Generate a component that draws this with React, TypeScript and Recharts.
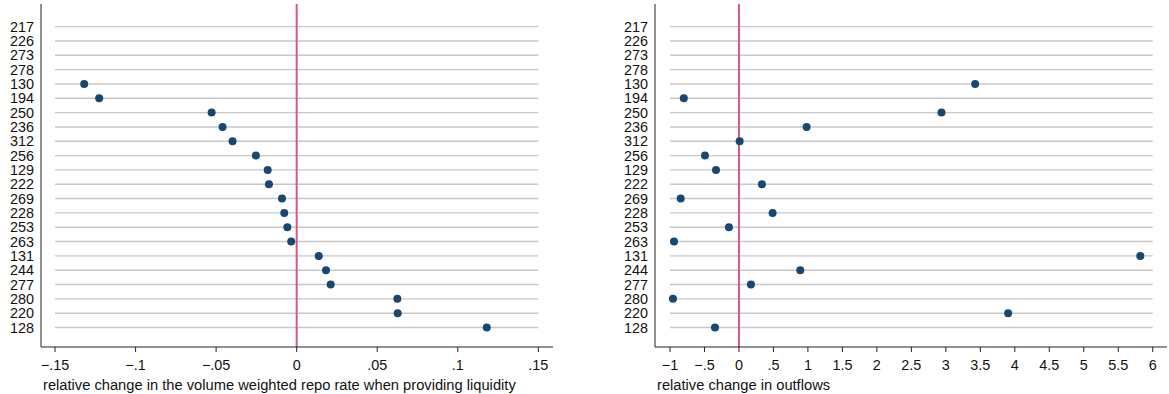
import React from 'react';
import { ScatterChart, Scatter, XAxis, YAxis, ReferenceLine } from 'recharts';

const banks = ['217', '226', '273', '278', '130', '194', '250', '236', '312', '256', '129', '222', '269', '228', '253', '263', '131', '244', '277', '280', '220', '128'];

const repoRateChange = [null, null, null, null, -0.1319, -0.1226, -0.0528, -0.046, -0.0398, -0.0253, -0.018, -0.0172, -0.0091, -0.0077, -0.0058, -0.0034, 0.0137, 0.0182, 0.0211, 0.0625, 0.0627, 0.118];

const outflowChange = [null, null, null, null, 3.425, -0.8, 2.937, 0.981, 0.01, -0.493, -0.333, 0.333, -0.845, 0.488, -0.145, -0.942, 5.82, 0.889, 0.174, -0.957, 3.903, -0.348];

const repoTicks = [-0.15, -0.1, -0.05, 0, 0.05, 0.1, 0.15];
const outflowTicks = [-1, -0.5, 0, 0.5, 1, 1.5, 2, 2.5, 3, 3.5, 4, 4.5, 5, 5.5, 6];

const FONT = '"Liberation Sans", Arial, Helvetica, sans-serif';
const DOT = '#1a476f';
const RED = '#d35b7c';
const GRID = '#c8c8c8';
const AXIS = '#222';

const stataNum = (v: number) => {
  if (v === 0) return '0';
  let s = String(Math.abs(v));
  if (s.startsWith('0.')) s = s.slice(1);
  return (v < 0 ? '\u2212' : '') + s;
};

const toPoints = (vals: (number | null)[]) =>
  vals
    .map((v, i) => (v === null ? null : { x: v, idx: i }))
    .filter((p): p is { x: number; idx: number } => p !== null);

const Dot = (p: any) => <circle cx={p.cx} cy={p.cy} r={4} fill={DOT} />;

type PanelProps = {
  values: (number | null)[];
  ticks: number[];
  domain: [number, number];
  title: string;
  width: number;
  right: number;
};

const Panel: React.FC<PanelProps> = ({ values, ticks, domain, title, width, right }) => {
  const pts = toPoints(values);
  const lo = ticks[0];
  const hi = ticks[ticks.length - 1];
  return (
    <ScatterChart width={width} height={394} margin={{ top: 4, right, bottom: 0, left: 0 }}>
      <XAxis
        type="number"
        dataKey="x"
        domain={domain}
        allowDataOverflow
        ticks={ticks}
        interval={0}
        tickFormatter={stataNum}
        height={47}
        tickSize={5}
        tickMargin={8}
        stroke={AXIS}
        tick={{ fontSize: 14.4, fill: '#111', fontFamily: FONT }}
        label={(props: any) => {
          const vb = props.viewBox || { x: 0, y: 0 };
          return (
            <text x={vb.x + 2} y={vb.y + 43} fontSize={14.7} fontFamily={FONT} fill="#111">
              {title}
            </text>
          );
        }}
      />
      <YAxis
        type="number"
        dataKey="idx"
        domain={[-1.58, 22.36]}
        allowDataOverflow
        reversed
        ticks={banks.map((_, i) => i)}
        interval={0}
        tickFormatter={(i: number) => banks[i]}
        width={41}
        tickLine={false}
        tickSize={0}
        tickMargin={7}
        stroke={AXIS}
        tick={{ fontSize: 14.4, fill: '#111', fontFamily: FONT }}
      />
      {banks.map((b, i) => (
        <ReferenceLine
          key={b}
          segment={[{ x: lo, y: i }, { x: hi, y: i }]}
          stroke={GRID}
          strokeWidth={1.4}
        />
      ))}
      <ReferenceLine x={0} stroke={RED} strokeWidth={2} />
      <Scatter data={pts} shape={Dot} isAnimationActive={false} />
    </ScatterChart>
  );
};

export default function App() {
  return (
    <div style={{ position: 'absolute', left: 0, top: 0, width: 1169, height: 394, background: '#fff' }}>
      <div style={{ position: 'absolute', left: 0, top: 0 }}>
        <Panel
          values={repoRateChange}
          ticks={repoTicks}
          domain={[-0.1587, 0.1591]}
          title="relative change in the volume weighted repo rate when providing liquidity"
          width={580}
          right={27}
        />
      </div>
      <div style={{ position: 'absolute', left: 614, top: 0 }}>
        <Panel
          values={outflowChange}
          ticks={outflowTicks}
          domain={[-1.2175, 6.207]}
          title="relative change in outflows"
          width={555}
          right={2}
        />
      </div>
    </div>
  );
}
